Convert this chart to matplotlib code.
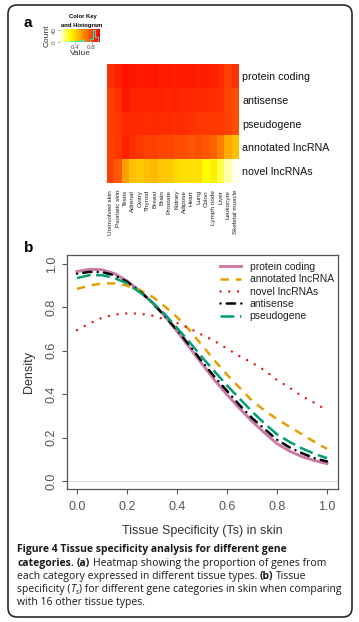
import matplotlib
matplotlib.use('Agg')
import matplotlib.pyplot as plt
import numpy as np
from matplotlib.colors import LinearSegmentedColormap, Normalize
from matplotlib.patches import FancyBboxPatch

W, H = 359, 622

# ---------------- data ----------------
categories = ['protein coding', 'antisense', 'pseudogene', 'annotated lncRNA', 'novel lncRNAs']
tissues = ['Uninvolved skin', 'Psoriatic skin', 'Testis', 'Adrenal', 'Ovary', 'Thyroid',
           'Breast', 'Brain', 'Prostate', 'Kidney', 'Adipose', 'Heart', 'Lung', 'Colon',
           'Lymph node', 'Liver', 'Leukocyte', 'Skeletal muscle']

heat_protein = [0.858, 0.889, 0.919, 0.905, 0.895, 0.900, 0.905, 0.895, 0.900, 0.892,
                0.898, 0.900, 0.890, 0.895, 0.889, 0.873, 0.830, 0.858]
heat_antisense = [0.828, 0.858, 0.904, 0.889, 0.880, 0.885, 0.878, 0.882, 0.876, 0.880,
                  0.873, 0.876, 0.870, 0.873, 0.865, 0.858, 0.813, 0.800]
heat_pseudo = [0.828, 0.843, 0.873, 0.870, 0.873, 0.868, 0.870, 0.865, 0.868, 0.862,
               0.860, 0.855, 0.845, 0.843, 0.845, 0.840, 0.828, 0.800]
heat_annot = [0.828, 0.843, 0.889, 0.858, 0.843, 0.828, 0.828, 0.813, 0.813, 0.798,
              0.798, 0.782, 0.798, 0.782, 0.767, 0.706, 0.628, 0.583]
heat_novel = [0.828, 0.782, 0.644, 0.583, 0.568, 0.583, 0.599, 0.568, 0.568, 0.537,
              0.522, 0.522, 0.522, 0.462, 0.492, 0.416, 0.346, 0.305]

ts_x = [0.00, 0.05, 0.10, 0.15, 0.20, 0.25, 0.30, 0.35, 0.40, 0.45, 0.50,
        0.55, 0.60, 0.65, 0.70, 0.75, 0.80, 0.85, 0.90, 0.95, 1.00]
dens_protein = [0.965, 0.975, 0.973, 0.955, 0.922, 0.877, 0.822, 0.760, 0.690, 0.615, 0.540,
                0.465, 0.398, 0.335, 0.275, 0.222, 0.172, 0.138, 0.112, 0.094, 0.080]
dens_annot = [0.885, 0.900, 0.910, 0.910, 0.900, 0.880, 0.850, 0.805, 0.755, 0.695, 0.625,
              0.555, 0.490, 0.430, 0.370, 0.325, 0.285, 0.250, 0.215, 0.180, 0.148]
dens_novel = [0.695, 0.725, 0.752, 0.767, 0.772, 0.771, 0.762, 0.745, 0.728, 0.703, 0.673,
              0.645, 0.610, 0.575, 0.545, 0.510, 0.465, 0.430, 0.390, 0.360, 0.325]
dens_antisense = [0.955, 0.963, 0.962, 0.948, 0.918, 0.875, 0.823, 0.762, 0.695, 0.625, 0.550,
                  0.480, 0.415, 0.350, 0.290, 0.240, 0.190, 0.155, 0.128, 0.105, 0.090]
dens_pseudo = [0.935, 0.948, 0.948, 0.935, 0.910, 0.870, 0.825, 0.770, 0.705, 0.640, 0.570,
               0.505, 0.440, 0.380, 0.320, 0.265, 0.215, 0.180, 0.150, 0.125, 0.105]

x_ticks = [0.0, 0.2, 0.4, 0.6, 0.8, 1.0]
y_ticks = [0.0, 0.2, 0.4, 0.6, 0.8, 1.0]

# ---------------- figure ----------------
AX_FONT = 'Liberation Sans'
CAP_FONT = 'Open Sans'
fig = plt.figure(figsize=(W / 100, H / 100), dpi=100)


def fb(x0, y0, x1, y1):
    """pixel box (top-left origin) -> figure rect"""
    return [x0 / W, 1 - y1 / H, (x1 - x0) / W, (y1 - y0) / H]


# rounded frame
frame = FancyBboxPatch((8 / 100, (H - 617) / 100), (352 - 8) / 100, (617 - 5) / 100,
                       boxstyle='round,pad=0,rounding_size=0.09',
                       transform=fig.dpi_scale_trans, fill=False,
                       edgecolor='#2a2a2a', linewidth=1.2)
fig.patches.append(frame)

# panel letters
fig.text(24 / W, 1 - 27 / H, 'a', fontsize=11, fontweight='bold', family=AX_FONT,
         ha='left', va='baseline')
fig.text(24 / W, 1 - 252 / H, 'b', fontsize=11, fontweight='bold', family=AX_FONT,
         ha='left', va='baseline')

# ---------------- heatmap ----------------
cmap = LinearSegmentedColormap.from_list('heat', [(0.0, '#FFFFF2'), (0.25, '#FFFF00'), (1.0, '#FF0000')])
norm = Normalize(vmin=0.30, vmax=0.95)
heat = np.array([heat_protein, heat_antisense, heat_pseudo, heat_annot, heat_novel])

axh = fig.add_axes(fb(107, 64, 239, 183))
axh.imshow(heat, cmap=cmap, norm=norm, aspect='auto', interpolation='nearest')
axh.set_xticks(range(len(tissues)))
axh.set_xticklabels(tissues, rotation=90, fontsize=4.6, family=AX_FONT, color='#222222')
axh.yaxis.tick_right()
axh.set_yticks(range(len(categories)))
axh.set_yticklabels(categories, fontsize=7.7, family=AX_FONT, color='#111111')
axh.tick_params(axis='x', length=0, pad=5)
axh.tick_params(axis='y', length=0, pad=2.3)
for s in axh.spines.values():
    s.set_visible(False)

# ---------------- color key ----------------
axk = fig.add_axes(fb(60, 29, 100, 42))
kx0, kx1 = 0.05, 1.0
grad = np.linspace(kx0, kx1, 200)[None, :]
axk.imshow(grad, cmap=cmap, norm=Normalize(vmin=kx0, vmax=kx1), aspect='auto',
           extent=[kx0, kx1, 0, 45], origin='lower')
counts, edges = np.histogram(heat.ravel(), bins=16, range=(kx0, kx1))
axk.step(edges, np.r_[counts, counts[-1]], where='post', color='#00FFFF', lw=0.6)
axk.set_xlim(kx0, kx1)
axk.set_ylim(0, 45)
axk.set_xticks([0.4, 0.8])
axk.set_xticklabels(['0.4', '0.8'], fontsize=4.5, family=AX_FONT, color='#333333')
axk.set_yticks([0, 40])
axk.set_yticklabels(['0', '40'], fontsize=4.5, family=AX_FONT, color='#333333', rotation=90,
                    va='center')
axk.tick_params(length=1.5, width=0.4, pad=1, colors='#555555')
axk.set_xlabel('Value', fontsize=6, family=AX_FONT, labelpad=0, color='#333333')
axk.set_ylabel('Count', fontsize=6, family=AX_FONT, labelpad=1, color='#333333')
for s in axk.spines.values():
    s.set_visible(False)
fig.text(83 / W, 1 - 18 / H, 'Color Key', fontsize=4.2, fontweight='bold', family=AX_FONT,
         ha='center', va='baseline')
fig.text(82 / W, 1 - 27 / H, 'and Histogram', fontsize=4.2, fontweight='bold', family=AX_FONT,
         ha='center', va='baseline')

# ---------------- density plot ----------------
plt.rcParams['lines.scale_dashes'] = False
ax = fig.add_axes(fb(67, 255, 338, 489))
ax.axhline(0, color='#DDDDDD', lw=0.8, zorder=0)

series = [
    ('protein coding', dens_protein, '#CC79A7', '-', 2.1),
    ('annotated lncRNA', dens_annot, '#E69F00', (0, (6.0, 5.0)), 1.8),
    ('novel lncRNAs', dens_novel, '#E41A1C', (0, (0.01, 6.3)), 1.8),
    ('antisense', dens_antisense, '#000000', (0, (0.01, 4.5, 6.0, 4.5)), 1.8),
    ('pseudogene', dens_pseudo, '#009E73', (0, (10.0, 4.0)), 1.8),
]
handles = []
for name, vals, col, ls, lw in series:
    ln, = ax.plot(ts_x, vals, color=col, linestyle=ls, lw=lw, label=name,
                  dash_capstyle='round' if name in ('novel lncRNAs', 'antisense') else 'butt')
    handles.append(ln)

ax.set_xlim(-0.04, 1.044)
ax.set_ylim(-0.037, 1.041)
ax.set_xticks(x_ticks)
ax.set_xticklabels(['%.1f' % v for v in x_ticks])
ax.set_yticks(y_ticks)
ax.set_yticklabels(['%.1f' % v for v in y_ticks], rotation=90, va='center')
for lab in ax.get_xticklabels() + ax.get_yticklabels():
    lab.set_family(AX_FONT)
    lab.set_fontsize(9)
    lab.set_color('#333333')
ax.tick_params(length=3.6, width=0.8, colors='#555555')
ax.tick_params(axis='x', pad=5)
ax.tick_params(axis='y', pad=3)
for s in ax.spines.values():
    s.set_color('#555555')
    s.set_linewidth(0.9)
ax.set_xlabel('Tissue Specificity (Ts) in skin', fontsize=9, family=AX_FONT, color='#333333',
              labelpad=9)
ax.set_ylabel('Density', fontsize=9, family=AX_FONT, color='#333333', labelpad=8)

leg = ax.legend(handles=handles, loc='upper left', bbox_to_anchor=((220 - 67) / 271, (489 - 262) / 234),
                frameon=False, handlelength=2.0, handletextpad=0.85,
                labelspacing=0.22, borderpad=0, borderaxespad=0, prop={'family': AX_FONT, 'size': 7.5})
for t in leg.get_texts():
    t.set_color('#222222')

# ---------------- caption ----------------
renderer = fig.canvas.get_renderer()


def text_w(s, size, weight='normal', style='normal'):
    t = fig.text(0, 0, s, fontsize=size, family=CAP_FONT, fontweight=weight, fontstyle=style)
    w = t.get_window_extent(renderer).width
    t.remove()
    return w


# fit the caption size so the first (bold) line spans about 270 px like the reference
CAP_SIZE = 7.0 * 270.0 / text_w('Figure 4 Tissue specificity analysis for different gene', 7.0, 'bold')
space_w = text_w('a a', CAP_SIZE) - text_w('aa', CAP_SIZE)


def runs_line(x_px, y_px, runs):
    x = x_px
    for run in runs:
        s, weight, style = run[0], run[1], run[2]
        size = CAP_SIZE * run[3] if len(run) > 3 else CAP_SIZE
        dy = run[4] if len(run) > 4 else 0
        lead = len(s) - len(s.lstrip(' '))
        x += lead * space_w
        core = s.strip(' ')
        trail = len(s) - len(s.rstrip(' ')) if core else 0
        if core:
            t = fig.text(x / W, 1 - (y_px + dy) / H, core, fontsize=size, family=CAP_FONT,
                         fontweight=weight, fontstyle=style, ha='left', va='baseline',
                         color='#1a1a1a')
            x += t.get_window_extent(renderer).width
        x += trail * space_w


cap_lines = [
    [('Figure 4 Tissue specificity analysis for different gene', 'bold', 'normal')],
    [('categories.', 'bold', 'normal'), (' (a)', 'bold', 'normal'),
     (' Heatmap showing the proportion of genes from', 'normal', 'normal')],
    [('each category expressed in different tissue types.', 'normal', 'normal'),
     (' (b)', 'bold', 'normal'), (' Tissue', 'normal', 'normal')],
    [('specificity (', 'normal', 'normal'), ('T', 'normal', 'italic'),
     ('s', 'normal', 'italic', 0.7, 1.5),
     (') for different gene categories in skin when comparing', 'normal', 'normal')],
    [('with 16 other tissue types.', 'normal', 'normal')],
]
cap_y = [552, 566, 579, 592, 605]
for yy, runs in zip(cap_y, cap_lines):
    runs_line(17, yy, runs)

fig.savefig('out.png', dpi=100)
